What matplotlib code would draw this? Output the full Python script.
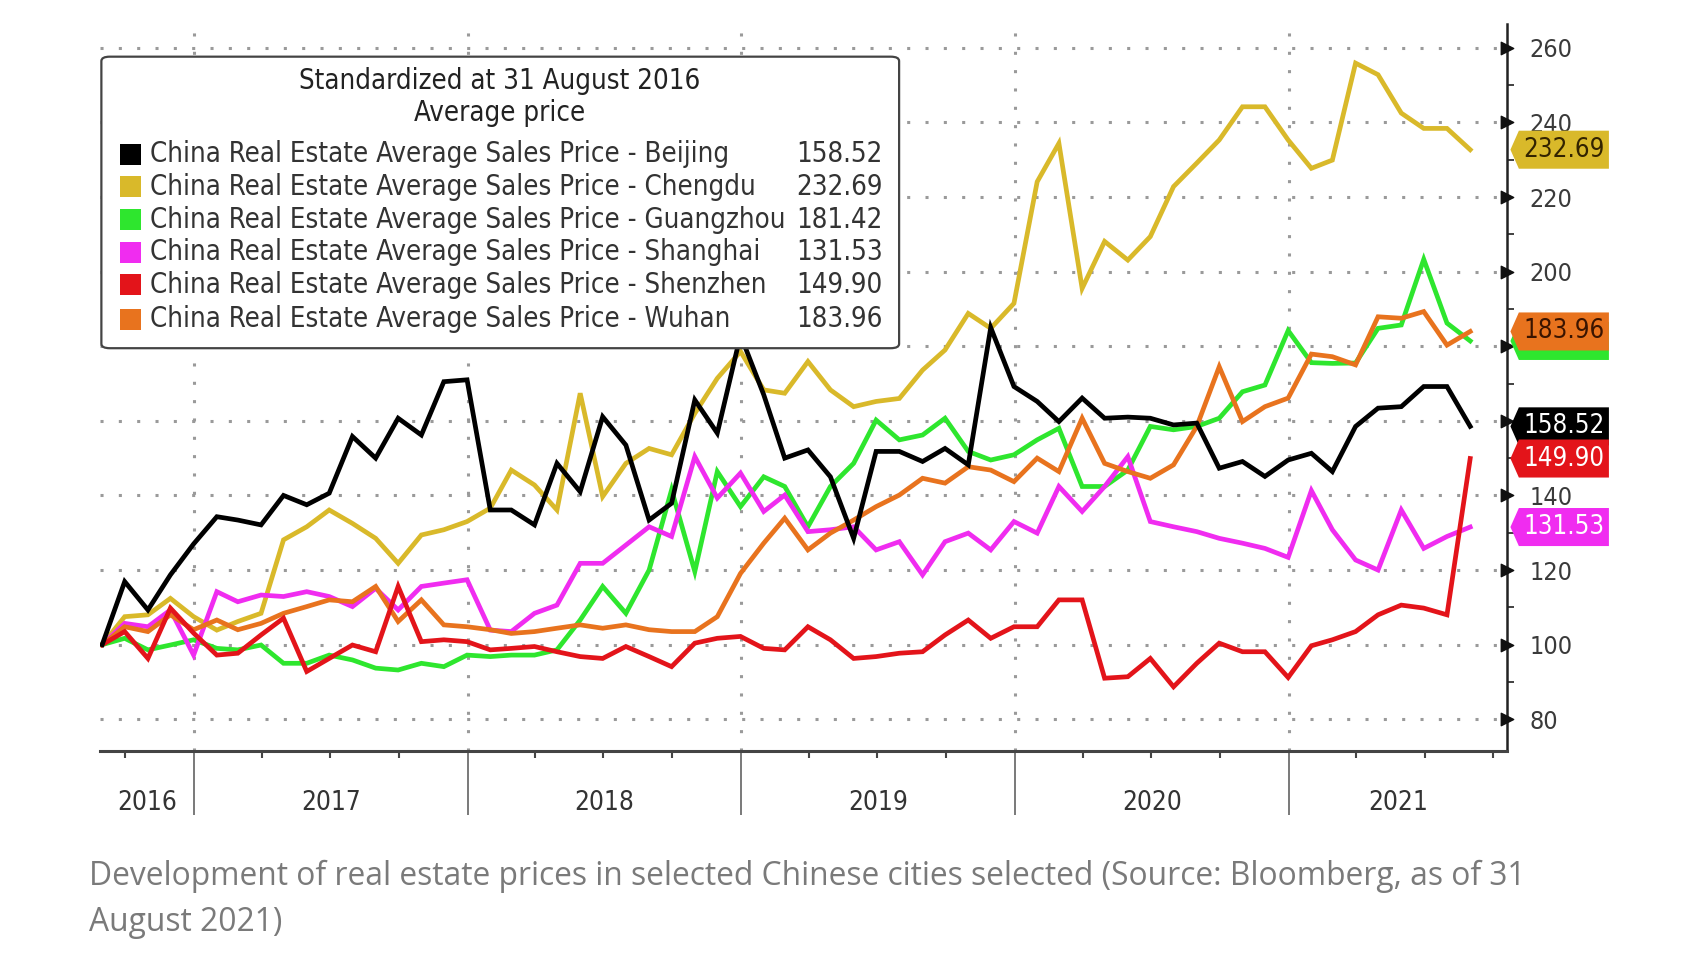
import numpy as np
import pandas as pd
import matplotlib
matplotlib.use("Agg")
import matplotlib.pyplot as plt
import matplotlib.dates as mdates
from matplotlib.patches import Polygon, Rectangle, FancyBboxPatch

# month-end index values, standardized to 100 at 31 Aug 2016
months = pd.date_range("2016-08-31", periods=61, freq="ME")

beijing = [100, 116.9, 109.3, 118.7, 127, 134.3, 133.4, 132.1, 140, 137.5, 140.6, 155.8, 150,
           160.7, 156.2, 170.5, 171, 136.1, 136.1, 132.1, 148.6, 141, 161.1, 153.5, 133.4, 137.9,
           165.6, 156.7, 183, 167, 150, 152.2, 145, 128.5, 151.8, 151.8, 149.1, 152.6, 148.2, 185,
           169.2, 165.2, 159.8, 166.1, 160.7, 161, 160.7, 158.9, 159.4, 147.3, 149.1, 145.1, 149.5,
           151.3, 146.4, 158.5, 163.4, 163.8, 169.2, 169.2, 158.52]
chengdu = [100, 107.5, 108, 112.4, 107.5, 103.9, 106.2, 108.4, 128.1, 131.6, 136.1, 132.5, 128.5,
           121.8, 129.4, 130.8, 133, 136.6, 146.8, 142.8, 136.1, 167.4, 139.7, 148.6, 152.6, 150.9,
           162, 171.4, 178.6, 168.3, 167.4, 175.9, 168.3, 163.8, 165.2, 166, 173.6, 179, 188.8, 184.8,
           191.5, 224.1, 234.4, 195.5, 208.1, 203.1, 209.4, 222.8, 229.1, 235.3, 244.2, 244.2, 235.3,
           227.7, 229.9, 255.9, 252.8, 242.5, 238.4, 238.4, 232.69]
guangzhou = [100, 101.7, 98.6, 99.9, 101.3, 99, 98.6, 99.9, 95, 95, 97.2, 95.9, 93.7, 93.2, 95,
             94.1, 97.2, 96.8, 97.2, 97.2, 98.6, 106.6, 115.6, 108.4, 120, 141.5, 119.6, 146.4, 137,
             145, 142.4, 131.6, 142.4, 148.6, 160.2, 154.9, 156.2, 160.7, 151.8, 149.5, 150.9, 154.9,
             158, 142.4, 142.4, 146.8, 158.5, 157.6, 158.5, 160.7, 167.8, 169.6, 184.2, 175.6, 175.4,
             175.5, 184.8, 185.7, 203.3, 186.2, 181.42]
shanghai = [100, 105.7, 104.8, 109.3, 97.2, 114.2, 111.5, 113.3, 112.9, 114.2, 112.9, 110.2, 115.1,
            109.3, 115.6, 116.5, 117.4, 103.9, 103.5, 108.4, 110.6, 121.8, 121.8, 126.7, 131.6, 129,
            150.4, 139.3, 146, 135.7, 140.1, 130.3, 130.8, 131.6, 125.4, 127.6, 118.7, 127.6, 129.9,
            125.4, 133, 129.9, 142.4, 135.7, 142.4, 150.4, 133, 131.6, 130.3, 128.5, 127.2, 125.8,
            123.4, 141.3, 130.8, 122.7, 120, 136.1, 125.8, 129, 131.53]
shenzhen = [100, 103.5, 96.3, 109.8, 103.1, 97.2, 97.7, 102.6, 107.1, 92.8, 96.3, 99.9, 98.1, 115.6,
            100.8, 101.3, 100.8, 98.6, 99, 99.5, 98.1, 96.8, 96.3, 99.5, 96.8, 94.1, 100.4, 101.7,
            102.2, 99, 98.6, 104.8, 101.3, 96.3, 96.8, 97.7, 98.1, 102.6, 106.6, 101.7, 104.8, 104.8,
            112, 112, 91, 91.4, 96.3, 88.7, 95, 100.4, 98.1, 98.1, 91.2, 99.7, 101.3, 103.5, 108,
            110.6, 109.8, 108, 149.90]
wuhan = [100, 104.8, 103.5, 108, 104, 106.6, 104, 105.7, 108.4, 110.2, 112, 111.5, 115.6, 106.2, 112,
         105.3, 104.8, 104, 103, 103.5, 104.4, 105.3, 104.4, 105.3, 104, 103.5, 103.5, 107.5, 119.1,
         127.2, 133.9, 125.4, 129.9, 133.4, 137, 140.1, 144.6, 143.3, 147.7, 146.8, 143.7, 150, 146.4,
         160.7, 148.6, 146.4, 144.6, 148.2, 158.5, 174.5, 159.8, 163.8, 166.1, 177.9, 177.2, 175,
         187.9, 187.5, 189.3, 180.3, 183.96]

cities = ["Beijing", "Chengdu", "Guangzhou", "Shanghai", "Shenzhen", "Wuhan"]
series = [beijing, chengdu, guangzhou, shanghai, shenzhen, wuhan]
colors = ["#000000", "#d9b92a", "#2ee62e", "#f02cf0", "#e3141a", "#e8731e"]
tag_text = ["white", "#332400", "#0a2a0a", "white", "white", "#3a1400"]
last_vals = ["158.52", "232.69", "181.42", "131.53", "149.90", "183.96"]

years = [2016, 2017, 2018, 2019, 2020, 2021]

# narrow look of the terminal font
COND = dict(family=["DejaVu Sans"], stretch="condensed")

fig = plt.figure(figsize=(17.06, 9.74), dpi=100)
ax = fig.add_axes([0.0586, 0.229, 0.8247, 0.7464])

x0 = pd.Timestamp("2016-08-28")
x1 = pd.Timestamp("2021-10-19")
ax.set_xlim(x0, x1)
ax.set_ylim(71.5, 266.4)

# lines (drawing order so black sits on top)
order = [1, 2, 3, 5, 4, 0]
for k in order:
    ax.plot(months, series[k], color=colors[k], lw=3.4, solid_joinstyle="miter", zorder=3)

# axes styling
for s in ["left", "top"]:
    ax.spines[s].set_visible(False)
ax.spines["bottom"].set_color("#444444")
ax.spines["bottom"].set_linewidth(2.2)
ax.spines["right"].set_color("#222222")
ax.spines["right"].set_linewidth(1.8)

ax.yaxis.tick_right()
ax.set_yticks(np.arange(80, 261, 20))
ax.set_yticks(np.arange(90, 260, 20), minor=True)
ax.tick_params(axis="y", which="major", length=0, pad=16, labelsize=18, labelcolor="#3a3a3a")
ax.tick_params(axis="y", which="minor", length=5, width=1.3, color="#333333", direction="out")
for lab in ax.get_yticklabels():
    lab.set_fontstretch("condensed")
ax.scatter(np.ones(10), np.arange(80, 261, 20), marker=">", s=80, color="#111111",
           transform=ax.get_yaxis_transform(), clip_on=False, zorder=4)

year_starts = [pd.Timestamp(f"{y}-01-01") for y in years[1:]]
quarters = [d for d in pd.date_range("2016-10-01", "2021-10-01", freq="QS-JAN") if d.month != 1]
ax.set_xticks(year_starts)
ax.set_xticks(quarters, minor=True)
ax.tick_params(axis="x", which="major", length=46, width=1.1, color="#555555", labelbottom=False)
ax.tick_params(axis="x", which="minor", length=5, width=1.5, color="#444444")

ax.grid(axis="both", which="major", color="#9a9a9a", linestyle=(0, (1, 5)), lw=2.2, zorder=0)

# year labels centred in each year segment
bounds = [x0] + year_starts + [x1]
for y, a, b in zip(years, bounds[:-1], bounds[1:]):
    mid = mdates.date2num(a) + (mdates.date2num(b) - mdates.date2num(a)) / 2
    ax.text(mid, -0.072, str(y), transform=ax.get_xaxis_transform(), ha="center", va="center",
            fontsize=18.8, color="#333333", **COND)

# value tags on the right axis (later tags cover earlier ones)
ytr = ax.get_yaxis_transform()
tag_order = [1, 2, 5, 0, 4, 3]
for j, k in enumerate(tag_order):
    v = float(last_vals[k])
    h = 5.1
    verts = [(1.0025, v), (1.0085, v + h), (1.0725, v + h), (1.0725, v - h), (1.0085, v - h)]
    ax.add_patch(Polygon(verts, closed=True, transform=ytr, facecolor=colors[k],
                         edgecolor="none", clip_on=False, zorder=6 + 2 * j))
    ax.text(1.0405, v, last_vals[k], transform=ytr, ha="center", va="center", fontsize=18.5,
            color=tag_text[k], clip_on=False, zorder=7 + 2 * j, **COND)

# legend box
LZ = 30
ax.add_patch(FancyBboxPatch((0.001, 0.554), 0.567, 0.401, boxstyle="round,pad=0,rounding_size=0.006",
                            transform=ax.transAxes, facecolor="white", edgecolor="#444444",
                            lw=1.6, zorder=LZ))
ax.text(0.284, 0.921, "Standardized at 31 August 2016", transform=ax.transAxes, ha="center",
        va="center", fontsize=19.8, color="#222222", zorder=LZ + 1, **COND)
ax.text(0.284, 0.878, "Average price", transform=ax.transAxes, ha="center", va="center",
        fontsize=19.8, color="#222222", zorder=LZ + 1, **COND)
row_y = [0.821, 0.776, 0.731, 0.686, 0.641, 0.594]
for k, ry in enumerate(row_y):
    ax.add_patch(Rectangle((0.0145, ry - 0.0145), 0.0148, 0.029, transform=ax.transAxes,
                           facecolor=colors[k], edgecolor="none", zorder=LZ + 1))
    ax.text(0.0355, ry, f"China Real Estate Average Sales Price - {cities[k]}",
            transform=ax.transAxes, ha="left", va="center", fontsize=19.8, color="#333333",
            zorder=LZ + 1, **COND)
    ax.text(0.5565, ry, last_vals[k], transform=ax.transAxes, ha="right", va="center",
            fontsize=19.8, color="#333333", zorder=LZ + 1, **COND)

# caption
fig.text(0.0522, 0.1005, "Development of real estate prices in selected Chinese cities selected "
         "(Source: Bloomberg, as of 31", fontsize=22.9, color="#7a7a7a", family="Open Sans",
         va="center", ha="left")
fig.text(0.0522, 0.0525, "August 2021)", fontsize=22.9, color="#7a7a7a", family="Open Sans",
         va="center", ha="left")

fig.savefig("out.png", dpi=100)
